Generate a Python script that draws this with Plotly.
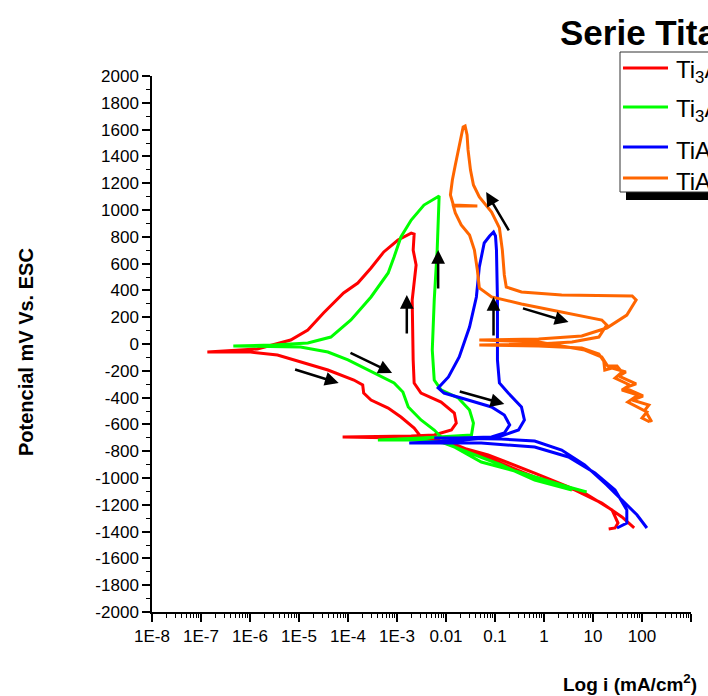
import numpy as np
import plotly.graph_objects as go

# ---- data (log10 of i in mA/cm^2, potential in mV vs ESC) ----
red_logi = [1.84, 1.59, 1.18, 0.50, -0.19, -1.14, -2.10, -2.92, -4.11, -2.71, -2.24, -1.89, -1.79, -1.83,
            -2.10, -2.51, -2.65, -2.67, -2.69, -2.61, -2.67, -2.65, -2.71, -2.98, -3.27, -3.53, -3.80, -4.09,
            -4.50, -4.82, -5.17, -5.52, -5.85, -6.87, -5.99, -5.44, -4.97, -4.41, -3.88, -3.70, -3.68, -3.53,
            -3.18, -2.92, -2.65, -2.51, -1.89, -1.14, -0.19, 0.83, 1.39, 1.51, 1.45, 1.32]
red_E = [-1373, -1291, -1187, -1067, -963, -828, -731, -701, -694, -687, -679, -642, -590, -515,
         -433, -366, -291, -119, 328, 590, 701, 821, 828, 776, 687, 567, 455, 381,
         231, 104, 30, -7, -37, -60, -60, -82, -134, -194, -269, -306, -366, -418,
         -478, -545, -627, -694, -739, -851, -993, -1112, -1239, -1336, -1373, -1381]

green_logi = [0.57, -0.19, -0.87, -1.55, -2.04, -2.51, -3.39, -2.51, -1.89, -1.48, -1.44, -1.52, -1.75, -2.10,
              -2.24, -2.26, -2.28, -2.24, -2.18, -2.14, -2.45, -2.71, -2.92, -3.06, -3.18, -3.53, -3.94, -4.35,
              -4.82, -5.52, -6.34, -4.97, -4.41, -4.00, -3.47, -3.06, -2.88, -2.77, -2.51, -2.24, -2.04, -1.83,
              -1.28, -0.52, 0.50, 0.87]
green_E = [-1090, -1015, -903, -806, -739, -716, -716, -701, -687, -679, -590, -493, -403, -343,
           -269, -119, -45, 328, 701, 1104, 1037, 925, 799, 649, 530, 351, 179, 52,
           7, -7, -15, -22, -60, -119, -216, -291, -358, -470, -567, -642, -716, -769,
           -881, -955, -1067, -1104]

blue_logi = [1.49, 1.69, 1.69, 1.45, 1.04, 0.50, -0.19, -1.28, -2.75, -1.89, -0.93, -0.52, -0.40, -0.46,
             -0.73, -0.91, -0.95, -0.95, -0.97, -0.99, -1.03, -1.11, -1.22, -1.32, -1.38, -1.52, -1.73, -1.95,
             -2.16, -2.04, -1.55, -1.07, -0.81, -0.70, -0.81, -1.07, -1.75, -2.24, -0.87, -0.19, 0.36, 0.83,
             1.28, 1.65, 1.90, 2.10]
blue_E = [-1373, -1336, -1239, -1090, -963, -843, -769, -739, -739, -724, -694, -642, -567, -470,
          -366, -291, -119, 328, 701, 806, 836, 806, 754, 575, 351, 127, -97, -246,
          -328, -366, -418, -470, -530, -604, -664, -694, -701, -701, -709, -724, -791, -903,
          -1052, -1187, -1276, -1373]

orange_logi = [2.20, 2.06, 2.14, 1.80, 2.02, 1.65, 1.88, 1.53, 1.67, 1.39, 1.24, 1.22, 1.12, 0.77, -0.11, -1.32,
               -0.11, 0.57, 1.12, 1.28, 1.18, 0.57, -0.46, -1.07, -1.32,
               -1.36, -1.42, -1.52, -1.69, -1.81, -1.85, -1.36, -1.85, -1.91, -1.87, -1.81, -1.75, -1.69, -1.65, -1.61,
               -1.57, -1.55, -1.50, -1.44, -1.32, -1.07, -0.91, -0.85, -0.81, -0.77, -0.46, 0.36, 1.80, 1.88, 1.69,
               1.28, 0.77, -0.11, -1.32,
               -0.11, 0.83, 1.18, 1.30, 1.49, 1.59, 1.45, 1.75, 1.59, 1.92, 1.71, 2.10, 2.00, 2.16]
orange_E = [-582, -493, -455, -418, -388, -328, -298, -239, -209, -179, -194, -127, -75, -30, -15, -7,
            0, 15, 52, 142, 179, 224, 299, 351, 418,
            552, 701, 813, 888, 978, 1030, 1030, 1037, 1112, 1224, 1336, 1448, 1560, 1619, 1627,
            1560, 1448, 1298, 1187, 1097, 985, 866, 701, 515, 425, 388, 366, 358, 328, 216,
            119, 60, 37, 30,
            15, -45, -97, -164, -164, -209, -254, -306, -343, -381, -433, -507, -552, -582]

series_names = ["Ti<sub>3</sub>Al", "Ti<sub>3</sub>Al-Nb", "TiAl", "TiAl-Cr"]
series_colors = ["#ff0000", "#00ff00", "#0000ff", "#ff6600"]

x_ticks = [1e-8, 1e-7, 1e-6, 1e-5, 1e-4, 1e-3, 1e-2, 1e-1, 1, 10, 100, 1000]
x_ticktext = ["1E-8", "1E-7", "1E-6", "1E-5", "1E-4", "1E-3", "0.01", "0.1", "1", "10", "100", "1000"]
y_ticks = list(range(-2000, 2001, 200))
y_ticktext = [str(v) for v in y_ticks]

# scan-direction arrows: (tail log i, tail E, head log i, head E)
arrows = [(-5.11, -187, -4.19, -291), (-3.98, -60, -3.10, -216), (-2.80, 67, -2.80, 366),
          (-2.16, 403, -2.16, 701), (-1.75, -351, -0.81, -448), (-1.03, 52, -1.03, 351),
          (-0.46, 269, 0.50, 164), (-0.70, 836, -1.18, 1134)]

# ---------------------------------------------------------------
W, H = 708, 696
L_M, R_M, T_M, B_M = 152, 17, 76, 84
PW, PH = W - L_M - R_M, H - T_M - B_M


def px(x):
    return (x - L_M) / PW


def py(y):
    return (H - B_M - y) / PH


FONT = "Liberation Sans, Arial, sans-serif"

fig = go.Figure()
all_series = [(red_logi, red_E), (green_logi, green_E), (blue_logi, blue_E), (orange_logi, orange_E)]
for (lg, e), name, col in zip(all_series, series_names, series_colors):
    fig.add_trace(go.Scatter(x=10 ** np.array(lg), y=e, mode="lines", name=name,
                             line=dict(color=col, width=3), showlegend=False))

annotations = []
for tx, ty, hx, hy in arrows:
    annotations.append(dict(x=hx, y=hy, ax=tx, ay=ty, xref="x", yref="y", axref="x", ayref="y",
                            showarrow=True, arrowhead=2, arrowsize=1.1, arrowwidth=2.5,
                            arrowcolor="black", text="", standoff=0, startstandoff=0))

# title
annotations.append(dict(x=px(558), y=py(33), xref="paper", yref="paper", xanchor="left", yanchor="middle",
                        text="<b>Serie Titanio</b>", showarrow=False,
                        font=dict(family=FONT, size=35, color="black")))
# axis titles
annotations.append(dict(x=px(26), y=py(352), xref="paper", yref="paper", xanchor="center", yanchor="middle",
                        text="<b>Potencial mV Vs. ESC</b>", textangle=-90, showarrow=False,
                        font=dict(family=FONT, size=20, color="black")))
annotations.append(dict(x=px(699), y=py(683), xref="paper", yref="paper", xanchor="right", yanchor="middle",
                        text="<b>Log i (mA/cm<sup>2</sup>)</b>", showarrow=False,
                        font=dict(family=FONT, size=19, color="black")))

# legend (drawn by hand to match the cropped box)
shapes = [
    dict(type="rect", xref="paper", yref="paper", x0=px(626), x1=px(760), y0=py(200), y1=py(192),
         fillcolor="black", line=dict(width=0)),
    dict(type="rect", xref="paper", yref="paper", x0=px(620), x1=px(760), y0=py(192), y1=py(52),
         fillcolor="white", line=dict(color="#333333", width=1)),
]
legend_y = [68, 107, 147, 178]
for yy, name, col in zip(legend_y, series_names, series_colors):
    shapes.append(dict(type="line", xref="paper", yref="paper", x0=px(623), x1=px(668), y0=py(yy), y1=py(yy),
                       line=dict(color=col, width=3)))
    annotations.append(dict(x=px(674), y=py(yy + 3), xref="paper", yref="paper", xanchor="left",
                            yanchor="middle", text=name, showarrow=False,
                            font=dict(family=FONT, size=24, color="black")))

minor_x = [k * 10.0 ** n for n in range(-8, 3) for k in range(2, 10)]

fig.update_layout(
    width=W, height=H, autosize=False,
    margin=dict(l=L_M, r=R_M, t=T_M, b=B_M, pad=0),
    paper_bgcolor="white", plot_bgcolor="white",
    font=dict(family=FONT, size=17, color="black"),
    showlegend=False,
    annotations=annotations, shapes=shapes,
    xaxis=dict(type="log", range=[-8, 3], tickmode="array", tickvals=x_ticks, ticktext=x_ticktext,
               showgrid=False, zeroline=False, showline=True, linecolor="black", linewidth=1.5,
               ticks="outside", ticklen=8, tickwidth=1.5, tickcolor="black", automargin=False,
               tickfont=dict(family=FONT, size=17, color="black"),
               minor=dict(tickmode="array", tickvals=minor_x, ticks="outside", ticklen=4,
                          tickwidth=1, tickcolor="black", showgrid=False)),
    yaxis=dict(range=[-2000, 2000], tickmode="array", tickvals=y_ticks, ticktext=y_ticktext,
               showgrid=False, zeroline=False, showline=True, linecolor="black", linewidth=1.5,
               ticks="outside", ticklen=8, tickwidth=1.5, tickcolor="black", automargin=False,
               tickfont=dict(family=FONT, size=17, color="black"),
               minor=dict(dtick=100, tick0=0, ticks="outside", ticklen=4, tickwidth=1,
                          tickcolor="black", showgrid=False)),
)

fig.write_html("out.html")
